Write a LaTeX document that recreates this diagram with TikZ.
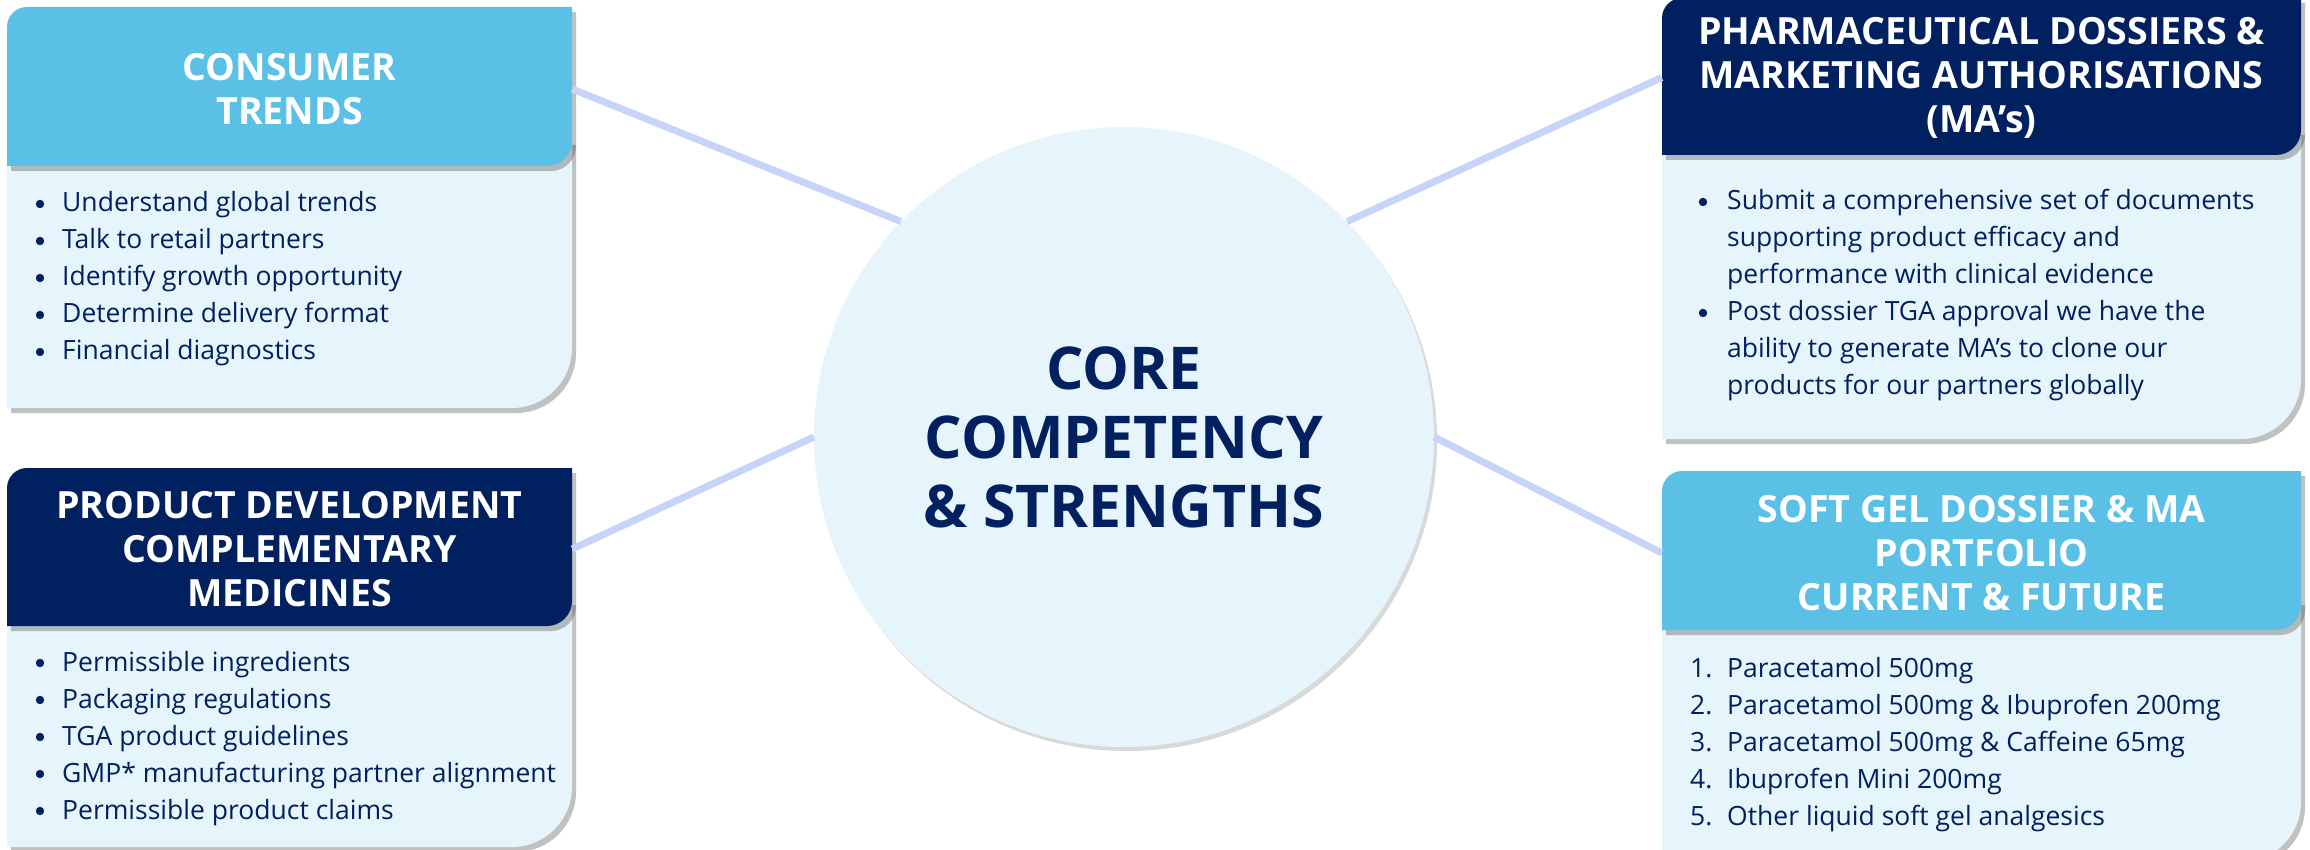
\documentclass[tikz,border=0pt]{standalone}
\usepackage{fontspec}
\setmainfont{Open Sans}
\usetikzlibrary{shadows}

\definecolor{navy}{HTML}{002060}
\definecolor{skyhead}{HTML}{5BC0E6}
\definecolor{palebody}{HTML}{E6F4FB}
\definecolor{linkblue}{HTML}{C5D4F8}

\begin{document}
\begin{tikzpicture}[x=1pt,y=-1pt,
	cardshadow/.style={drop shadow={shadow xshift=4pt,shadow yshift=-5pt,opacity=.35,fill=black!70}},
	headtext/.style={text=white,font=\fontsize{37.5}{44}\selectfont\bfseries,align=center,inner sep=0pt,minimum height=158pt},
	listtext/.style={text=navy,font=\fontsize{26.5}{37}\selectfont,anchor=base west,inner sep=0pt},
	dot/.style={fill=navy},
	link/.style={linkblue,line width=7pt}]
	\useasboundingbox (0,0) rectangle (2310,850);

	% consumer trends
	\fill[palebody,cardshadow] (7,140) -- (572,140) -- (572,348) arc[start angle=0,end angle=90,radius=60] -- (7,408) -- cycle;
	\fill[skyhead,cardshadow] (7,166) -- (7,27) arc[start angle=180,end angle=270,radius=20] -- (572,7) -- (572,141) arc[start angle=0,end angle=90,radius=25] -- cycle;
	\node[headtext,minimum width=565pt] (trends) at (289.5,89) {CONSUMER\\TRENDS};
	\node[listtext] (trendslist) at (62,212) {\begin{tabular}[t]{@{}l@{}}
		Understand global trends\\
		Talk to retail partners\\
		Identify growth opportunity\\
		Determine delivery format\\
		Financial diagnostics
	\end{tabular}};
	\foreach \y in {204,241,278,315,352}
		\fill[dot] (40,\y) circle (4.2);

	% product development
	\fill[palebody,cardshadow] (7,600) -- (572,600) -- (572,787) arc[start angle=0,end angle=90,radius=60] -- (7,847) -- cycle;
	\fill[navy,cardshadow] (7,626) -- (7,488) arc[start angle=180,end angle=270,radius=20] -- (572,468) -- (572,601) arc[start angle=0,end angle=90,radius=25] -- cycle;
	\node[headtext,minimum width=565pt] (devel) at (289.5,549) {PRODUCT DEVELOPMENT\\COMPLEMENTARY\\MEDICINES};
	\node[listtext] (devellist) at (62,671) {\begin{tabular}[t]{@{}l@{}}
		Permissible ingredients\\
		Packaging regulations\\
		TGA product guidelines\\
		GMP* manufacturing partner alignment\\
		Permissible product claims
	\end{tabular}};
	\foreach \y in {663,700,737,774,811}
		\fill[dot] (40,\y) circle (4.2);

	% dossiers
	\fill[palebody,cardshadow] (1662,130) -- (2301,130) -- (2301,379) arc[start angle=0,end angle=90,radius=60] -- (1662,439) -- cycle;
	\fill[navy,cardshadow] (1662,155) -- (1662,18) arc[start angle=180,end angle=270,radius=20] -- (2301,-2) -- (2301,130) arc[start angle=0,end angle=90,radius=25] -- cycle;
	\node[headtext,minimum width=639pt] (dossier) at (1981.5,77.5) {PHARMACEUTICAL DOSSIERS \&\\MARKETING AUTHORISATIONS\\(MA’s)};
	\node[listtext] (dossierlist) at (1727,210) {\begin{tabular}[t]{@{}l@{}}
		Submit a comprehensive set of documents\\
		supporting product efficacy and\\
		performance with clinical evidence\\
		Post dossier TGA approval we have the\\
		ability to generate MA’s to clone our\\
		products for our partners globally
	\end{tabular}};
	\foreach \y in {202,313}
		\fill[dot] (1703,\y) circle (4.2);

	% soft gel portfolio
	\fill[palebody,cardshadow] (1662,600) -- (2301,600) -- (2301,802) arc[start angle=0,end angle=90,radius=60] -- (1662,862) -- cycle;
	\fill[skyhead,cardshadow] (1662,630) -- (1662,491) arc[start angle=180,end angle=270,radius=20] -- (2301,471) -- (2301,605) arc[start angle=0,end angle=90,radius=25] -- cycle;
	\node[headtext,minimum width=639pt] (softgel) at (1981.5,553) {SOFT GEL DOSSIER \& MA\\PORTFOLIO\\CURRENT \& FUTURE};
	\node[listtext] (softgellist) at (1690,677) {\begin{tabular}[t]{@{}p{37pt}@{}l@{}}
		1. & Paracetamol 500mg\\
		2. & Paracetamol 500mg \& Ibuprofen 200mg\\
		3. & Paracetamol 500mg \& Caffeine 65mg\\
		4. & Ibuprofen Mini 200mg\\
		5. & Other liquid soft gel analgesics
	\end{tabular}};

	% centre
	\node[circle,fill=palebody,minimum size=620pt,inner sep=0pt,text=navy,align=center,
		font=\fontsize{59}{69}\selectfont\bfseries,
		drop shadow={shadow xshift=3pt,shadow yshift=-4pt,opacity=.25,fill=black!60}]
		(core) at (1124,437) {CORE\\COMPETENCY\\\& STRENGTHS};

	\draw[link] (trends.east) -- (core.136);
	\draw[link] (devel.east) -- (core.180);
	\draw[link] (dossier.west) -- (core.44);
	\draw[link] (softgel.west) -- (core.0);
\end{tikzpicture}
\end{document}
